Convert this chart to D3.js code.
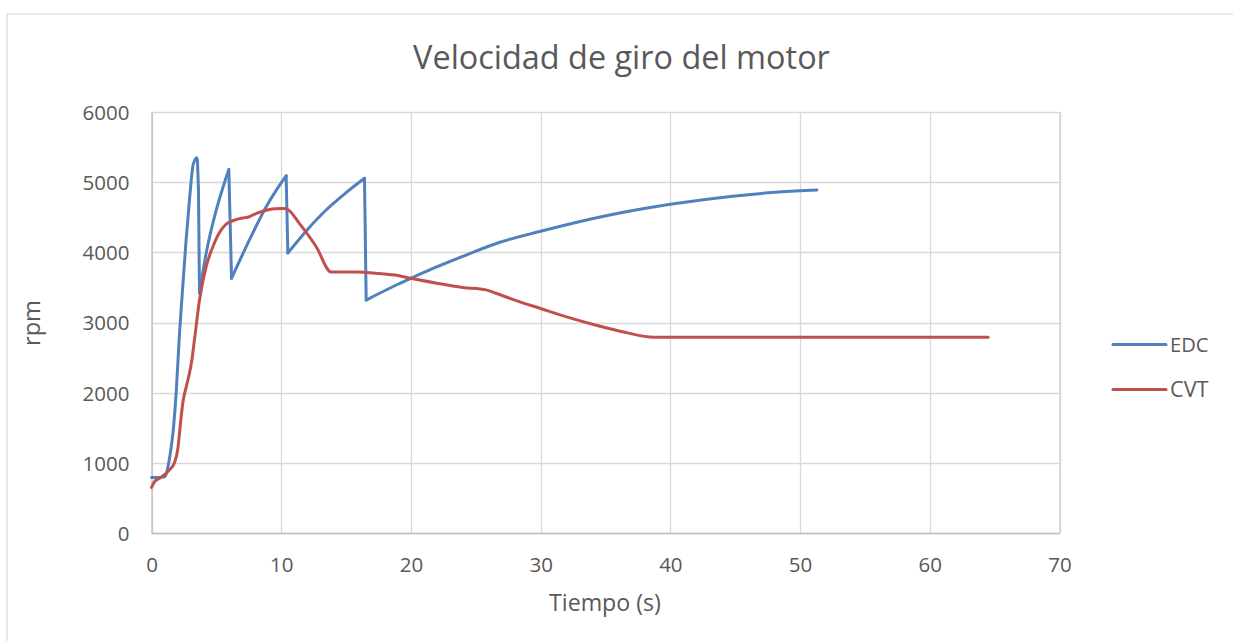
<!DOCTYPE html>
<html>
<head>
<meta charset="utf-8">
<script src="https://cdn.jsdelivr.net/npm/d3@7/dist/d3.min.js"></script>
<style>
  html, body { margin: 0; padding: 0; background: #fff; }
  svg { display: block; }
  text { font-family: "Open Sans", "Liberation Sans", sans-serif; fill: #595959; }
</style>
</head>
<body>
<svg id="chart" width="1233" height="641"></svg>
<script>
// ---- Data ----
const chartTitle = "Velocidad de giro del motor";
const xAxisTitle = "Tiempo (s)";
const yAxisTitle = "rpm";
const seriesNames = ["EDC", "CVT"];
const xTicks = [0, 10, 20, 30, 40, 50, 60, 70];
const yTicks = [0, 1000, 2000, 3000, 4000, 5000, 6000];

// EDC: time (s) and rpm
const edcTime = [0, 1.0, 1.15, 1.33, 1.5, 1.65, 1.9, 2.16, 2.41, 2.67, 2.93, 3.18, 3.36, 3.46, 3.54, 3.62, 3.7,
  4.22, 4.99, 5.5, 5.96, 6.17,
  7.56, 8.84, 9.6, 10.38, 10.51,
  12.0, 13.5, 15.0, 16.42, 16.55,
  19.0, 20.0, 21.7, 24.3, 26.8, 30.0, 34.5, 40.0, 44.8, 50.0, 51.3];
const edcRpm = [790, 800, 850, 1000, 1200, 1420, 1990, 2850, 3510, 4180, 4750, 5220, 5320, 5345, 5320, 4900, 3420,
  3990, 4600, 4920, 5180, 3630,
  4180, 4650, 4880, 5090, 3990,
  4320, 4610, 4850, 5055, 3320,
  3545, 3630, 3770, 3965, 4140, 4300, 4500, 4684, 4800, 4878, 4888];

// CVT: time (s) and rpm
const cvtTime = [0, 0.23, 0.62, 1.0, 1.39, 1.77, 2.03, 2.2, 2.41, 2.7, 2.93, 3.1, 3.31, 3.7, 4.22, 4.73,
  5.37, 5.8, 6.27, 7.0, 7.42, 7.68, 8.3, 8.84, 9.5, 10.25, 10.5, 11.41, 12.7, 13.85, 15.78, 17.5,
  19.0, 20.0, 22.0, 24.0, 25.8, 26.5, 28.0, 30.0, 32.0, 34.5, 36.5, 38.7, 64.5];
const cvtRpm = [650, 730, 780, 830, 900, 1000, 1200, 1500, 1850, 2100, 2280, 2450, 2750, 3320, 3800, 4080,
  4320, 4410, 4450, 4490, 4500, 4520, 4570, 4600, 4620, 4625, 4610, 4410, 4080, 3720, 3720, 3700,
  3670, 3630, 3560, 3500, 3465, 3420, 3320, 3200, 3080, 2950, 2860, 2790, 2790];

const seriesColors = ["#4f81bd", "#c0504d"];

// ---- Build ----
const svg = d3.select("#chart");
const W = 1233, H = 641;
const plot = { left: 151.5, right: 1059.5, top: 112, bottom: 533 };

const x = d3.scaleLinear().domain([0, 70]).range([plot.left, plot.right]);
const y = d3.scaleLinear().domain([0, 6000]).range([plot.bottom, plot.top]);

// Chart outer border
svg.append("rect").attr("x", 7).attr("y", 14).attr("width", W).attr("height", H)
  .attr("fill", "#fff").attr("stroke", "#d9d9d9").attr("stroke-width", 1.2);

function fitWidth(sel, target) {
  const fs = parseFloat(sel.attr("font-size"));
  const len = sel.node().getComputedTextLength();
  if (len > 0) sel.attr("font-size", fs * target / len);
}

// Title
const t = svg.append("text").attr("x", 621.5).attr("y", 69).attr("text-anchor", "middle")
  .attr("font-size", 30).text(chartTitle);
fitWidth(t, 417);

// Grid
const grid = svg.append("g");
grid.selectAll("line.h").data(yTicks).join("line")
  .attr("x1", plot.left).attr("x2", plot.right)
  .attr("y1", d => Math.round(y(d)) + 0.5).attr("y2", d => Math.round(y(d)) + 0.5)
  .attr("stroke", "#d9d9d9").attr("stroke-width", 1.3);
grid.selectAll("line.v").data(xTicks).join("line")
  .attr("y1", plot.top).attr("y2", plot.bottom)
  .attr("x1", d => Math.round(x(d)) + 0.5).attr("x2", d => Math.round(x(d)) + 0.5)
  .attr("stroke", "#d9d9d9").attr("stroke-width", 1.3);

// Axes
const xAxis = d3.axisBottom(x).tickValues(xTicks).tickFormat(d3.format("d")).tickSize(0);
const gx = svg.append("g").attr("transform", `translate(0,${plot.bottom})`).call(xAxis);
gx.select(".domain").attr("stroke", "#bfbfbf").attr("stroke-width", 1.3);
gx.selectAll("text").attr("font-size", 20.5).attr("fill", "#595959")
  .attr("font-family", "'Open Sans', sans-serif").attr("dy", "0.36em").attr("y", 32);

const yAxis = d3.axisLeft(y).tickValues(yTicks).tickFormat(d3.format("d")).tickSize(0).tickPadding(22);
const gy = svg.append("g").attr("transform", `translate(${plot.left},0)`).call(yAxis);
gy.select(".domain").attr("stroke", "#bfbfbf").attr("stroke-width", 1.3);
gy.selectAll("text").attr("font-size", 20.5).attr("fill", "#595959")
  .attr("font-family", "'Open Sans', sans-serif").attr("dy", "0.36em");

// right frame
svg.append("line").attr("x1", plot.right + 0.5).attr("x2", plot.right + 0.5)
  .attr("y1", plot.top).attr("y2", plot.bottom).attr("stroke", "#d0d0d0").attr("stroke-width", 1.3);

// Axis titles
const xt = svg.append("text").attr("x", 605).attr("y", 611).attr("text-anchor", "middle")
  .attr("font-size", 20).text(xAxisTitle);
fitWidth(xt, 112);
const yt = svg.append("text").attr("transform", "translate(40,323) rotate(-90)")
  .attr("text-anchor", "middle").attr("font-size", 20).text(yAxisTitle);
fitWidth(yt, 46);

// Lines
const smooth = d3.line().x(d => x(d[0])).y(d => y(d[1])).curve(d3.curveMonotoneX);
const straight = d3.line().x(d => x(d[0])).y(d => y(d[1]));
const edc = edcTime.map((tv, i) => [tv, edcRpm[i]]);
const cvt = cvtTime.map((tv, i) => [tv, cvtRpm[i]]);

// split a series into rising / falling runs (sawtooth shape)
function runs(data) {
  const out = [];
  let cur = [data[0]], dir = null;
  for (let i = 1; i < data.length; i++) {
    const d = data[i][1] >= data[i - 1][1] ? 1 : -1;
    if (dir === null || d === dir) { cur.push(data[i]); dir = d; }
    else { out.push({ dir, pts: cur }); cur = [data[i - 1], data[i]]; dir = d; }
  }
  out.push({ dir, pts: cur });
  return out;
}

const gEdc = svg.append("g");
runs(edc).forEach(r => {
  gEdc.append("path").attr("d", r.dir > 0 ? smooth(r.pts) : straight(r.pts))
    .attr("fill", "none").attr("stroke", seriesColors[0]).attr("stroke-width", 3)
    .attr("stroke-linejoin", "round").attr("stroke-linecap", "round");
});
svg.append("path").datum(cvt).attr("d", smooth)
  .attr("fill", "none").attr("stroke", seriesColors[1]).attr("stroke-width", 3)
  .attr("stroke-linejoin", "round").attr("stroke-linecap", "round");

// Legend
const legY = [344.5, 389.5];
seriesNames.forEach((name, i) => {
  svg.append("line").attr("x1", 1113).attr("x2", 1166).attr("y1", legY[i]).attr("y2", legY[i])
    .attr("stroke", seriesColors[i]).attr("stroke-width", 3).attr("stroke-linecap", "round");
  const lt = svg.append("text").attr("x", 1170).attr("y", legY[i]).attr("dy", "0.36em")
    .attr("font-size", 20).text(name);
  fitWidth(lt, 38.5);
});
</script>
</body>
</html>
